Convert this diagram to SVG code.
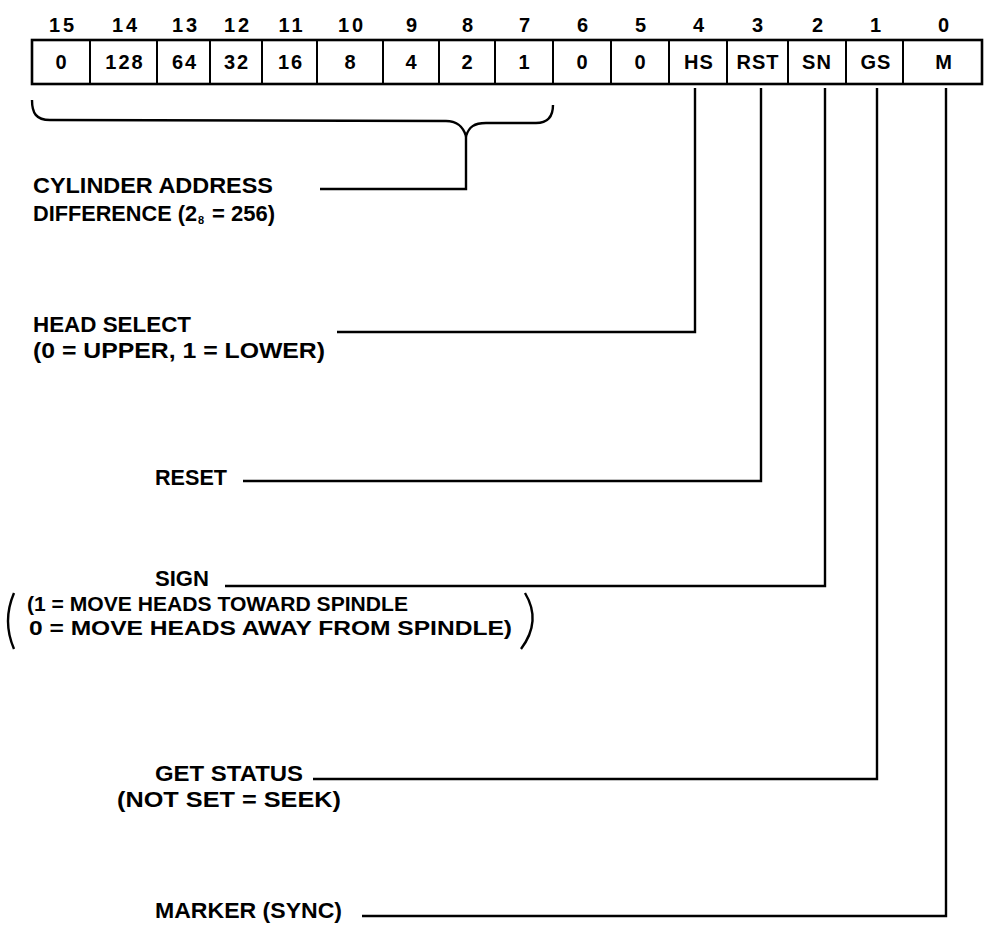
<svg xmlns="http://www.w3.org/2000/svg" width="989" height="930" viewBox="0 0 989 930">
<style>
  .bg { fill: #ffffff; }
  .t { font-family: "Liberation Sans", Arial, sans-serif; font-weight: bold; fill: #000; }
  .lbl { font-size: 22px; }
  .par { font-size: 21px; }
  .num { font-size: 20px; text-anchor: middle; letter-spacing: 3px; }
  .cell { font-size: 20px; text-anchor: middle; letter-spacing: 2px; }
  .cl { letter-spacing: 1px; }
  .box { fill: none; stroke: #000; stroke-width: 2.6; }
  .div { stroke: #000; stroke-width: 2; }
  .ln { fill: none; stroke: #000; stroke-width: 2.4; stroke-linejoin: miter; }
</style>
<rect class="bg" x="0" y="0" width="989" height="930"/>

<g id="bit-numbers" class="t num">
  <text x="63" y="32">15</text>
  <text x="126" y="32">14</text>
  <text x="186" y="32">13</text>
  <text x="238" y="32">12</text>
  <text x="292" y="32">11</text>
  <text x="352" y="32">10</text>
  <text x="413" y="32">9</text>
  <text x="469" y="32">8</text>
  <text x="526" y="32">7</text>
  <text x="584" y="32">6</text>
  <text x="642" y="32">5</text>
  <text x="700" y="32">4</text>
  <text x="759" y="32">3</text>
  <text x="819" y="32">2</text>
  <text x="877" y="32">1</text>
  <text x="945" y="32">0</text>
</g>

<g id="register">
  <rect class="box" x="32" y="40" width="950" height="44"/>
  <line class="div" x1="90" y1="40" x2="90" y2="84"/>
  <line class="div" x1="157" y1="40" x2="157" y2="84"/>
  <line class="div" x1="210" y1="40" x2="210" y2="84"/>
  <line class="div" x1="262" y1="40" x2="262" y2="84"/>
  <line class="div" x1="317" y1="40" x2="317" y2="84"/>
  <line class="div" x1="383" y1="40" x2="383" y2="84"/>
  <line class="div" x1="439" y1="40" x2="439" y2="84"/>
  <line class="div" x1="495" y1="40" x2="495" y2="84"/>
  <line class="div" x1="553" y1="40" x2="553" y2="84"/>
  <line class="div" x1="611" y1="40" x2="611" y2="84"/>
  <line class="div" x1="669" y1="40" x2="669" y2="84"/>
  <line class="div" x1="727" y1="40" x2="727" y2="84"/>
  <line class="div" x1="788" y1="40" x2="788" y2="84"/>
  <line class="div" x1="846" y1="40" x2="846" y2="84"/>
  <line class="div" x1="903" y1="40" x2="903" y2="84"/>
  <g class="t cell">
    <text x="62" y="69">0</text>
    <text x="125" y="69">128</text>
    <text x="185" y="69">64</text>
    <text x="237" y="69">32</text>
    <text x="291" y="69">16</text>
    <text x="351" y="69">8</text>
    <text x="412" y="69">4</text>
    <text x="468" y="69">2</text>
    <text x="525" y="69">1</text>
    <text x="583" y="69">0</text>
    <text x="641" y="69">0</text>
    <text class="cl" x="699" y="69">HS</text>
    <text class="cl" x="758" y="69">RST</text>
    <text class="cl" x="817" y="69">SN</text>
    <text class="cl" x="876" y="69">GS</text>
    <text class="cl" x="944" y="69">M</text>
  </g>
</g>

<g id="cylinder-address">
  <text class="t lbl" x="33" y="193" textLength="240" lengthAdjust="spacingAndGlyphs">CYLINDER ADDRESS</text>
  <text class="t lbl" x="33" y="221"><tspan x="33" textLength="164" lengthAdjust="spacingAndGlyphs">DIFFERENCE (2</tspan><tspan x="198" dy="3" font-size="11">8</tspan><tspan x="212" dy="-3">= 256)</tspan></text>
</g>

<g id="head-select">
  <text class="t lbl" x="33" y="332" textLength="158" lengthAdjust="spacingAndGlyphs">HEAD SELECT</text>
  <text class="t lbl" x="33" y="358" textLength="292" lengthAdjust="spacingAndGlyphs">(0 = UPPER, 1 = LOWER)</text>
</g>

<g id="reset">
  <text class="t lbl" x="155" y="485" textLength="72" lengthAdjust="spacingAndGlyphs">RESET</text>
</g>

<g id="sign">
  <text class="t lbl" x="155" y="586" textLength="54" lengthAdjust="spacingAndGlyphs">SIGN</text>
  <text class="t par" x="27" y="611" textLength="381" lengthAdjust="spacingAndGlyphs">(1 = MOVE HEADS TOWARD SPINDLE</text>
  <text class="t par" x="29" y="635" textLength="483" lengthAdjust="spacingAndGlyphs">0 = MOVE HEADS AWAY FROM SPINDLE)</text>
  <path class="ln" d="M14,593 Q2,621 14,649"/>
  <path class="ln" d="M525,593 Q542,621 521,649"/>
</g>

<g id="get-status">
  <text class="t lbl" x="155" y="781" textLength="148" lengthAdjust="spacingAndGlyphs">GET STATUS</text>
  <text class="t lbl" x="117" y="807" textLength="224" lengthAdjust="spacingAndGlyphs">(NOT SET = SEEK)</text>
</g>

<g id="marker">
  <text class="t lbl" x="155" y="918" textLength="187" lengthAdjust="spacingAndGlyphs">MARKER (SYNC)</text>
</g>

<g id="connectors" class="ln">
  <path d="M32,100 C32,113 36,120 50,120 L446,121 C458,121 463,127 466,136 C469,127 474,123 486,123 L536,123 C548,123 553,116 553,105"/>
  <path d="M466,136 V189 H320"/>
  <path d="M695,88 V332 H337"/>
  <path d="M761,88 V481 H243"/>
  <path d="M825,88 V586 H225"/>
  <path d="M877,88 V779 H313"/>
  <path d="M946,88 V916 H362"/>
</g>
</svg>
